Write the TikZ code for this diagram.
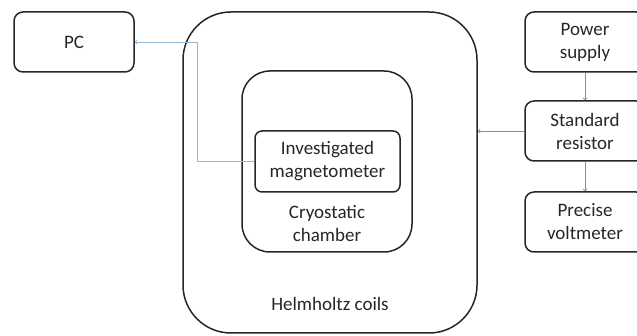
\documentclass[tikz,border=0pt]{standalone}
\usepackage{fontspec}
\setmainfont{Carlito}
\usepackage{tikz}
\usetikzlibrary{shapes,arrows,positioning}
\definecolor{wireblue}{RGB}{150,182,214}
\tikzstyle{device} = [draw, line width=1.5pt, color=black!85, text=black!85, text centered, align=center, minimum width=120pt, minimum height=60pt, rounded corners=9pt, font=\fontsize{19}{23}\selectfont]
\tikzstyle{enclosure} = [draw, line width=1.5pt, color=black!85, inner sep=0pt]
\tikzstyle{tag} = [text=black!85, align=center, font=\fontsize{19}{23}\selectfont]
\tikzstyle{arrow} = [draw, thick, color=black!45, -to]
\tikzstyle{wire} = [draw, thick, color=wireblue, -to]
\newcommand{\device}[2]{node (d#1) [device] {#2}}

\begin{document}
\begin{tikzpicture}[x=1pt,y=-1pt]
\useasboundingbox (0,0) rectangle (637,336);
% enclosures
\node (e1) [enclosure, minimum width=294pt, minimum height=321pt, rounded corners=48pt,
  label={[tag, anchor=south, yshift=20pt]south:Helmholtz coils}] at (330,172.5) {};
\node (e2) [enclosure, minimum width=170pt, minimum height=181pt, rounded corners=28pt,
  label={[tag, anchor=south, yshift=8pt]south:Cryostatic\\chamber}] at (327,161.5) {};
\path (327.5,161.5) node (d5) [device, minimum width=145pt, minimum height=61pt, rounded corners=7pt] {Investigated\\magnetometer};

% devices
\path (74,42) \device{1}{PC};
\path (d1)+(511,0) \device{2}{Power\\supply};
\path (d2)+(0,89) \device{3}{Standard\\resistor};
\path (d3)+(0,91) \device{4}{Precise\\voltmeter};

% connections
\coordinate (turn) at (197,0);
\path [wire] (d5.west) -| (turn |- d1.east) -- (d1.east);
\path [arrow] (d2.south) -- (d3.north);
\path [arrow] (d3.south) -- (d4.north);
\path [arrow] (d3.west) -- (d3.west -| e1.east);
\end{tikzpicture}
\end{document}
